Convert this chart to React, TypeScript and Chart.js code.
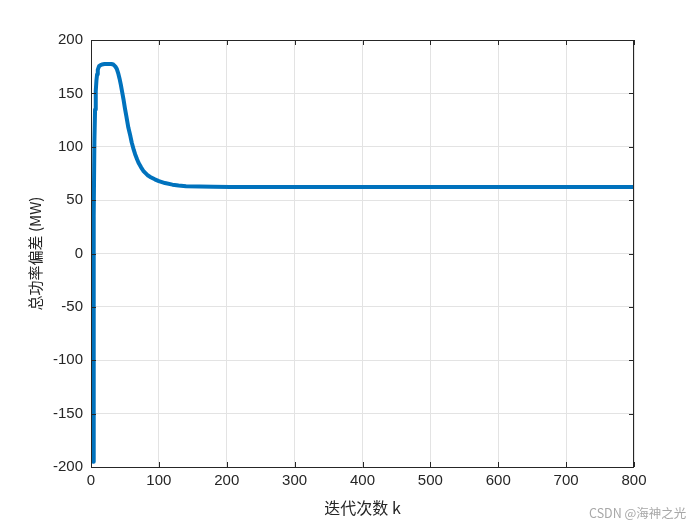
import React, { useEffect, useRef } from "react";
import { Chart, registerables } from "chart.js";

Chart.register(...registerables);

// iteration index k
const iterations = [
  0, 1, 2, 3, 4, 5, 6, 7, 8, 9, 10, 11, 12, 14, 16, 20, 25, 30, 33, 36, 38, 40,
  42, 44, 46, 48, 50, 52, 55, 58, 60, 63, 65, 68, 70, 74, 77, 80, 84, 88, 94,
  100, 109, 120, 129, 140, 160, 180, 205, 300, 400, 500, 600, 700, 800,
];
// total power deviation (MW)
const deviation = [
  0, -48, 2, -195, 35, 105, 135, 152, 162, 168, 172, 174, 175.5, 176.5, 177,
  177.5, 177.5, 177.5, 177, 175, 173, 169, 164, 158, 151, 144, 136, 129, 118,
  110, 104, 97, 93, 88, 85, 80.5, 77.5, 75.5, 73, 71.5, 69.5, 67.8, 66, 64.5,
  63.7, 63, 62.7, 62.5, 62.4, 62.3, 62.3, 62.3, 62.3, 62.3, 62.3,
];

const xTicks = [0, 100, 200, 300, 400, 500, 600, 700, 800];
const yTicks = [-200, -150, -100, -50, 0, 50, 100, 150, 200];

const xTitle = "迭代次数 k";
const yTitle = "总功率偏差 (MW)";
const watermark = "CSDN @海神之光";

const AXIS_COLOR = "#262626";
const GRID_COLOR = "#e3e3e3";
const LINE_COLOR = "#0072BD";

const boxPlugin = {
  id: "boxPlugin",
  afterDraw(chart: any) {
    const { ctx, chartArea, scales } = chart;
    const { left, right, top, bottom } = chartArea;
    ctx.save();
    ctx.strokeStyle = AXIS_COLOR;
    ctx.lineWidth = 1;
    ctx.beginPath();
    ctx.rect(Math.round(left) + 0.5, Math.round(top) + 0.5, Math.round(right - left) - 1, Math.round(bottom - top));
    ctx.stroke();
    const tl = 5;
    ctx.beginPath();
    xTicks.forEach((v) => {
      const x = Math.round(scales.x.getPixelForValue(v)) + 0.5;
      ctx.moveTo(x, bottom);
      ctx.lineTo(x, bottom - tl);
      ctx.moveTo(x, top);
      ctx.lineTo(x, top + tl);
    });
    yTicks.forEach((v) => {
      const y = Math.round(scales.y.getPixelForValue(v)) + 0.5;
      ctx.moveTo(left, y);
      ctx.lineTo(left + tl, y);
      ctx.moveTo(right, y);
      ctx.lineTo(right - tl, y);
    });
    ctx.stroke();
    ctx.restore();
  },
};

export default function App() {
  const ref = useRef<HTMLCanvasElement | null>(null);

  useEffect(() => {
    if (!ref.current) return;
    const points = iterations.map((k, i) => ({ x: k, y: deviation[i] }));
    const chart = new Chart(ref.current, {
      type: "line",
      data: {
        datasets: [
          {
            data: points,
            borderColor: LINE_COLOR,
            backgroundColor: LINE_COLOR,
            borderWidth: 4,
            pointRadius: 0,
            tension: 0,
            borderJoinStyle: "round",
          },
        ],
      },
      options: {
        animation: false,
        responsive: true,
        maintainAspectRatio: false,
        layout: { padding: { left: 0, right: 66, top: 40, bottom: 0 } },
        plugins: { legend: { display: false }, tooltip: { enabled: false } },
        scales: {
          x: {
            type: "linear",
            min: 0,
            max: 800,
            afterBuildTicks: (axis: any) => {
              axis.ticks = xTicks.map((v) => ({ value: v }));
            },
            afterFit: (axis: any) => {
              axis.height = 58;
            },
            ticks: {
              color: AXIS_COLOR,
              font: { family: "'Liberation Sans', Arial, sans-serif", size: 15 },
              padding: 5,
              maxRotation: 0,
            },
            grid: { color: GRID_COLOR, drawTicks: false },
            border: { display: false },
            title: {
              display: true,
              text: xTitle,
              color: AXIS_COLOR,
              font: { family: "'Noto Sans CJK SC', 'Liberation Sans', sans-serif", size: 16 },
              padding: { top: 0, bottom: 7 },
            },
          },
          y: {
            type: "linear",
            min: -200,
            max: 200,
            afterBuildTicks: (axis: any) => {
              axis.ticks = yTicks.map((v) => ({ value: v }));
            },
            afterFit: (axis: any) => {
              axis.width = 91;
            },
            ticks: {
              color: AXIS_COLOR,
              font: { family: "'Liberation Sans', Arial, sans-serif", size: 15 },
              padding: 8,
            },
            grid: { color: GRID_COLOR, drawTicks: false },
            border: { display: false },
            title: {
              display: true,
              text: yTitle,
              color: AXIS_COLOR,
              font: { family: "'Noto Sans CJK SC', 'Liberation Sans', sans-serif", size: 15 },
              padding: { top: 26, bottom: 0 },
            },
          },
        },
      },
      plugins: [boxPlugin],
    });
    return () => chart.destroy();
  }, []);

  return (
    <div style={{ position: "absolute", left: 0, top: 0, width: 700, height: 525, background: "#fff" }}>
      <canvas ref={ref} />
      <div
        style={{
          position: "absolute",
          left: 589,
          top: 503,
          fontFamily: "'Noto Sans CJK SC', 'Liberation Sans', sans-serif",
          fontSize: 12.5,
          color: "#a8a8a8",
          whiteSpace: "nowrap",
        }}
      >
        {watermark}
      </div>
    </div>
  );
}
